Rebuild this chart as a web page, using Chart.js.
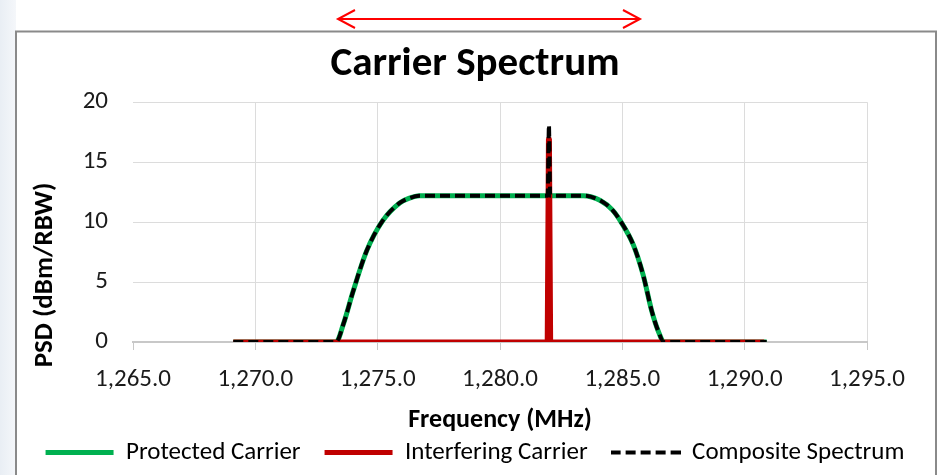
<!DOCTYPE html>
<html lang="en">
<head>
<meta charset="UTF-8">
<title>Carrier Spectrum</title>
<script src="https://cdn.jsdelivr.net/npm/chart.js"></script>
<style>
  html, body { margin: 0; padding: 0; background: #fff; }
  #wrap { width: 938px; height: 475px; }
</style>
</head>
<body>
<div id="wrap"><canvas id="spectrum" width="938" height="475"></canvas></div>
<script>
// values
const freqProtected = [1269.1, 1273.3, 1273.6, 1274.0, 1274.55, 1275.2, 1275.9, 1276.3, 1276.7,
                       1283.4, 1284.1, 1284.6, 1284.95, 1285.45, 1285.85, 1286.2, 1286.47, 1286.7, 1290.9];
const psdProtected  = [0, 0, 1.5, 4.25, 7.6, 10.1, 11.6, 12.0, 12.2,
                       12.2, 11.8, 11.0, 10.0, 8.1, 5.6, 2.6, 0.9, 0, 0];

const freqInterfering = [1269.1, 1281.93, 1281.98, 1282.02, 1282.07, 1290.8];
const psdInterfering  = [0, 0, 16.9, 16.9, 0, 0];

const freqComposite = [1269.1, 1273.3, 1273.6, 1274.0, 1274.55, 1275.2, 1275.9, 1276.3, 1276.7,
                       1281.95, 1282.0, 1282.05,
                       1283.4, 1284.1, 1284.6, 1284.95, 1285.45, 1285.85, 1286.2, 1286.47, 1286.7, 1290.9];
const psdComposite  = [0, 0, 1.5, 4.25, 7.6, 10.1, 11.6, 12.0, 12.2,
                       12.2, 18.1, 12.2,
                       12.2, 11.8, 11.0, 10.0, 8.1, 5.6, 2.6, 0.9, 0, 0];

const seriesNames = ["Protected Carrier", "Interfering Carrier", "Composite Spectrum"];
const xTickValues = [1265, 1270, 1275, 1280, 1285, 1290, 1295];
const yTickValues = [0, 5, 10, 15, 20];

const FONT = "Calibri, Carlito, Lato, sans-serif";

function pts(xs, ys) {
    return xs.map((x, i) => ({ x: x, y: ys[i] }));
}

// legend marker for the dashed series (the built-in 'line' style ignores the dash)
const dashMarker = document.createElement("canvas");
dashMarker.width = 70;
dashMarker.height = 6;
(function () {
    const c = dashMarker.getContext("2d");
    c.strokeStyle = "#000";
    c.lineWidth = 4;
    c.setLineDash([10, 5]);
    c.beginPath();
    c.moveTo(0, 3);
    c.lineTo(70, 3);
    c.stroke();
})();

// frame, arrow and the rotated y title (drawn by hand so it sits where the original has it)
const decor = {
    id: "decor",
    beforeDraw(chart) {
        const ctx = chart.ctx;
        ctx.save();
        const g = ctx.createLinearGradient(0, 0, 18, 0);
        g.addColorStop(0, "#e9eef4");
        g.addColorStop(1, "#f6f8fb");
        ctx.fillStyle = g;
        ctx.fillRect(0, 0, 16, 475);
        ctx.fillStyle = "#fff";
        ctx.fillRect(16, 31, 920, 444);
        ctx.strokeStyle = "#8a8a8a";
        ctx.lineWidth = 2;
        ctx.strokeRect(16, 31.5, 920, 460);

        ctx.strokeStyle = "#ff0000";
        ctx.lineWidth = 2;
        ctx.beginPath();
        ctx.moveTo(338, 19); ctx.lineTo(640, 19);
        ctx.moveTo(355, 10); ctx.lineTo(338, 19); ctx.lineTo(355, 28);
        ctx.moveTo(623, 10); ctx.lineTo(640, 19); ctx.lineTo(623, 28);
        ctx.stroke();
        ctx.restore();
    },
    afterDraw(chart) {
        const ctx = chart.ctx;
        ctx.save();
        ctx.translate(45, 275);
        ctx.rotate(-Math.PI / 2);
        ctx.font = "bold 27px " + FONT;
        ctx.fillStyle = "#000";
        ctx.textAlign = "center";
        ctx.textBaseline = "middle";
        ctx.fillText("PSD (dBm/RBW)", 0, 0);
        ctx.restore();
    }
};

new Chart(document.getElementById("spectrum"), {
    type: "scatter",
    data: {
        datasets: [
            {
                label: seriesNames[0],
                data: pts(freqProtected, psdProtected),
                showLine: true,
                borderColor: "#00b050",
                backgroundColor: "#00b050",
                borderWidth: 5,
                cubicInterpolationMode: "monotone",
                pointRadius: 0,
                pointStyle: "line",
                order: 3
            },
            {
                label: seriesNames[1],
                data: pts(freqInterfering, psdInterfering),
                showLine: true,
                borderColor: "#c00000",
                backgroundColor: "#c00000",
                borderWidth: 5,
                borderJoinStyle: "round",
                tension: 0,
                pointRadius: 0,
                pointStyle: "line",
                order: 2
            },
            {
                label: seriesNames[2],
                data: pts(freqComposite, psdComposite),
                showLine: true,
                borderColor: "#000",
                backgroundColor: "#000",
                borderWidth: 4,
                borderDash: [10, 5],
                cubicInterpolationMode: "monotone",
                pointRadius: 0,
                pointStyle: dashMarker,
                order: 1
            }
        ]
    },
    options: {
        responsive: false,
        animation: false,
        layout: { padding: { left: 20, right: 8, top: 36, bottom: 0 } },
        plugins: {
            tooltip: { enabled: false },
            title: {
                display: true,
                text: "Carrier Spectrum",
                color: "#000",
                font: { family: FONT, size: 41, weight: "bold" },
                padding: { top: 4, bottom: 13 }
            },
            legend: {
                position: "bottom",
                labels: {
                    usePointStyle: true,
                    pointStyleWidth: 68,
                    color: "#000",
                    font: { family: FONT, size: 25 },
                    padding: 24,
                    sort: (a, b) => a.datasetIndex - b.datasetIndex
                }
            }
        },
        scales: {
            x: {
                type: "linear",
                min: xTickValues[0],
                max: xTickValues[xTickValues.length - 1],
                afterBuildTicks: s => { s.ticks = xTickValues.map(v => ({ value: v })); },
                afterFit: s => { s.height = 74; },
                border: { display: true, color: "#c8c8c8", width: 2 },
                grid: {
                    color: c => (c.tick && c.tick.value === xTickValues[0]) ? "rgba(0,0,0,0)" : "#dcdcdc",
                    tickColor: "#c8c8c8",
                    tickLength: 8
                },
                ticks: {
                    autoSkip: false,
                    maxRotation: 0,
                    padding: 15,
                    color: "#1a1a1a",
                    font: { family: FONT, size: 25 },
                    callback: v => v.toLocaleString("en-US", { minimumFractionDigits: 1, maximumFractionDigits: 1 })
                },
                title: {
                    display: true,
                    text: "Frequency (MHz)",
                    color: "#000",
                    font: { family: FONT, size: 26, weight: "bold" },
                    padding: { top: -20, bottom: -20 }
                }
            },
            y: {
                min: yTickValues[0],
                max: yTickValues[yTickValues.length - 1],
                afterBuildTicks: s => { s.ticks = yTickValues.map(v => ({ value: v })); },
                afterFit: s => { s.width = 113; },
                border: { display: false },
                grid: {
                    color: c => (c.tick && c.tick.value === 0) ? "rgba(0,0,0,0)" : "#dcdcdc",
                    drawTicks: false
                },
                ticks: {
                    padding: 25,
                    color: "#1a1a1a",
                    font: { family: FONT, size: 25 }
                }
            },
            // empty right-hand axis: only reserves room so the plot ends at 1,295.0
            yPad: {
                position: "right",
                display: true,
                afterFit: s => { s.width = 63; },
                border: { display: false },
                grid: { drawOnChartArea: false, drawTicks: false },
                ticks: { display: false }
            }
        }
    },
    plugins: [decor]
});
</script>
</body>
</html>
